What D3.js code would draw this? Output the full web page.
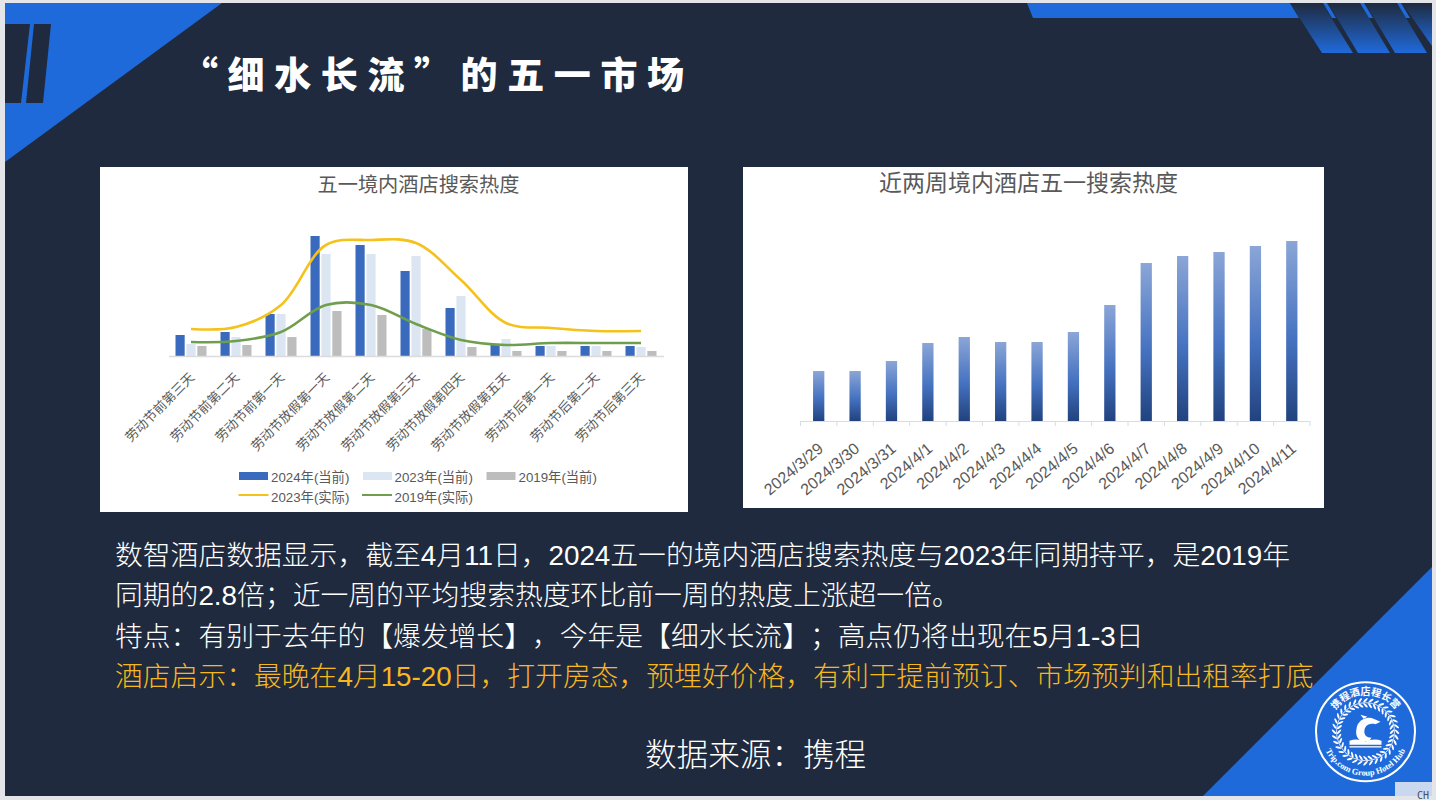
<!DOCTYPE html>
<html>
<head>
<meta charset="utf-8">
<script src="https://cdn.jsdelivr.net/npm/d3@7"></script>
<style>
  html, body { margin: 0; padding: 0; background: #e3e5e8; }
  svg { display: block; }
  text { font-family: "Liberation Sans", "Noto Sans CJK SC", sans-serif; text-spacing-trim: space-all; }
</style>
</head>
<body>
<div id="slide"></div>
<script>
// Left chart data (index)
const holidayDays = ["劳动节前第三天", "劳动节前第二天", "劳动节前第一天", "劳动节放假第一天", "劳动节放假第二天", "劳动节放假第三天", "劳动节放假第四天", "劳动节放假第五天", "劳动节后第一天", "劳动节后第二天", "劳动节后第三天"]
const current2024 = [21, 24, 42, 120, 111, 85, 48, 11, 10, 10, 10]
const current2023 = [12, 19, 42, 102, 102, 100, 60, 17, 10, 10, 9]
const current2019 = [10, 11, 19, 45, 41, 27, 9, 5, 5, 5, 5]
const actual2023 = [27, 29, 51, 111, 116, 113, 76, 33, 28, 25, 25]
const actual2019 = [14, 15, 24, 51, 51, 32, 16, 11, 13, 13, 13]

// Right chart data
const searchDates = ["2024/3/29", "2024/3/30", "2024/3/31", "2024/4/1", "2024/4/2", "2024/4/3", "2024/4/4", "2024/4/5", "2024/4/6", "2024/4/7", "2024/4/8", "2024/4/9", "2024/4/10", "2024/4/11"]
const searchHeat = [50, 50, 60, 78, 84, 79, 79, 89, 116, 158, 165, 169, 175, 180]

// Text on the slide
const slideTitle = "“细水长流”的五一市场"
const bodyLines = [
  "数智酒店数据显示，截至4月11日，2024五一的境内酒店搜索热度与2023年同期持平，是2019年",
  "同期的2.8倍；近一周的平均搜索热度环比前一周的热度上涨超一倍。",
  "特点：有别于去年的【爆发增长】，今年是【细水长流】；高点仍将出现在5月1-3日",
  "酒店启示：最晚在4月15-20日，打开房态，预埋好价格，有利于提前预订、市场预判和出租率打底"
]

const BLUE = "#1f6adb"
const DARK = "#1f2a3e"
const GREY_TEXT = "#595959"

const svg = d3.select("#slide").append("svg")
  .attr("width", 1436)
  .attr("height", 800)

const defs = svg.append("defs")

drawBackground()
drawLeftChart()
drawRightChart()
drawText()
drawLogo()

function polygon(points, fill) {
  return svg.append("polygon")
    .attr("points", points.map(p => p.join(",")).join(" "))
    .attr("fill", fill)
}

function drawBackground() {
  svg.append("rect")
    .attr("x", 5).attr("y", 3)
    .attr("width", 1427).attr("height", 793)
    .attr("fill", DARK)

  // top left corner
  polygon([[5, 3], [222, 3], [5, 162]], BLUE)
  polygon([[5, 24], [30, 24], [21, 103], [5, 103]], DARK)
  polygon([[34, 24], [51, 24], [43, 103], [26, 103]], DARK)

  // top right strip
  polygon([[1027, 3], [1290, 3], [1299, 18], [1033, 18]], BLUE)

  const fade = defs.append("linearGradient")
    .attr("id", "stripeFade")
    .attr("x1", 0).attr("y1", 0).attr("x2", 0).attr("y2", 1)
  fade.append("stop").attr("offset", "0%").attr("stop-color", DARK)
  fade.append("stop").attr("offset", "100%").attr("stop-color", BLUE)

  polygon([[1290, 3], [1322, 3], [1353, 53], [1322, 53]], "url(#stripeFade)")
  polygon([[1328, 3], [1360, 3], [1390, 53], [1358, 53]], "url(#stripeFade)")
  polygon([[1365, 3], [1397, 3], [1427, 53], [1395, 53]], "url(#stripeFade)")
  polygon([[1402, 3], [1432, 3], [1432, 46]], "url(#stripeFade)")

  // blue ticks in the gaps between stripes
  polygon([[1323, 3], [1327, 3], [1336, 18], [1332, 18]], BLUE)
  polygon([[1360, 3], [1364, 3], [1373, 18], [1369, 18]], BLUE)
  polygon([[1397, 3], [1401, 3], [1410, 18], [1406, 18]], BLUE)

  // bottom right corner
  polygon([[1432, 567], [1432, 796], [1203, 796]], BLUE)

  // leftover toolbar scrap in the corner
  svg.append("rect")
    .attr("x", 1395).attr("y", 782)
    .attr("width", 37).attr("height", 14)
    .attr("fill", "#c9d8ee")
  svg.append("text")
    .attr("x", 1417).attr("y", 799)
    .attr("font-size", 10)
    .style("font-family", "DejaVu Sans Mono")
    .attr("fill", "#44505f")
    .text("CH")
}

function drawLeftChart() {
  svg.append("rect")
    .attr("x", 100).attr("y", 167)
    .attr("width", 588).attr("height", 345)
    .attr("fill", "#fff")

  svg.append("text")
    .attr("x", 418.5).attr("y", 192)
    .attr("text-anchor", "middle")
    .attr("font-size", 20.2)
    .attr("fill", GREY_TEXT)
    .text("五一境内酒店搜索热度")

  const x = d3.scaleBand().domain(holidayDays).range([168.5, 663.5])
  const y = d3.scaleLinear().domain([0, 120]).range([356, 236])

  const barSeries = [
    { name: "2024年(当前)", values: current2024, color: "#3a6abd" },
    { name: "2023年(当前)", values: current2023, color: "#dce5f2" },
    { name: "2019年(当前)", values: current2019, color: "#bdbdbd" }
  ]
  const lineSeries = [
    { name: "2023年(实际)", values: actual2023, color: "#f5c21b" },
    { name: "2019年(实际)", values: actual2019, color: "#6f9e4c" }
  ]

  const inner = d3.scaleBand()
    .domain(barSeries.map(d => d.name))
    .range([7, 38])
    .paddingInner(0.16)

  barSeries.forEach(s => {
    svg.append("g").selectAll("rect")
      .data(s.values)
      .enter()
      .append("rect")
      .attr("x", (d, i) => x(holidayDays[i]) + inner(s.name))
      .attr("y", d => y(d))
      .attr("width", inner.bandwidth())
      .attr("height", d => y(0) - y(d))
      .attr("fill", s.color)
  })

  const line = d3.line()
    .x((d, i) => x(holidayDays[i]) + x.bandwidth() / 2)
    .y(d => y(d))
    .curve(d3.curveCatmullRom.alpha(0.5))

  lineSeries.forEach(s => {
    svg.append("path")
      .attr("d", line(s.values))
      .attr("fill", "none")
      .attr("stroke", s.color)
      .attr("stroke-width", 2.6)
  })

  const axis = svg.append("g")
    .attr("transform", `translate(0,${y(0)})`)
    .call(d3.axisBottom(x).tickSize(0))
  axis.select(".domain").attr("stroke", "#dcdcdc").attr("stroke-width", 1.5)
  axis.selectAll("text")
    .attr("font-size", 13)
    .style("font-family", "Noto Sans CJK SC")
    .attr("fill", GREY_TEXT)
    .attr("text-anchor", "end")
    .attr("x", 0).attr("y", 0).attr("dy", "0.35em")
    .attr("transform", "translate(1,19) rotate(-45)")

  // legend
  const legendBars = [[239, 271], [363, 394.5], [486.5, 518.5]]
  barSeries.forEach((s, i) => {
    svg.append("rect")
      .attr("x", legendBars[i][0]).attr("y", 472)
      .attr("width", 29).attr("height", 8)
      .attr("fill", s.color)
    svg.append("text")
      .attr("x", legendBars[i][1]).attr("y", 481.5)
      .attr("font-size", 13.3)
      .attr("fill", GREY_TEXT)
      .text(s.name)
  })
  const legendLines = [[238.5, 271], [362, 394.5]]
  lineSeries.forEach((s, i) => {
    svg.append("line")
      .attr("x1", legendLines[i][0]).attr("x2", legendLines[i][0] + 30)
      .attr("y1", 495).attr("y2", 495)
      .attr("stroke", s.color)
      .attr("stroke-width", 2)
    svg.append("text")
      .attr("x", legendLines[i][1]).attr("y", 502)
      .attr("font-size", 13.3)
      .attr("fill", GREY_TEXT)
      .text(s.name)
  })
}

function drawRightChart() {
  svg.append("rect")
    .attr("x", 743).attr("y", 167)
    .attr("width", 581).attr("height", 341)
    .attr("fill", "#fff")

  svg.append("text")
    .attr("x", 1028.5).attr("y", 191)
    .attr("text-anchor", "middle")
    .attr("font-size", 23)
    .attr("fill", GREY_TEXT)
    .text("近两周境内酒店五一搜索热度")

  const x = d3.scaleBand().domain(searchDates).range([800.5, 1310]).paddingInner(0.69).paddingOuter(0.345)
  const y = d3.scaleLinear().domain([0, 180]).range([421, 241])

  const barFill = defs.append("linearGradient")
    .attr("id", "heatBar")
    .attr("x1", 0).attr("y1", 0).attr("x2", 0).attr("y2", 1)
  barFill.append("stop").attr("offset", "0%").attr("stop-color", "#8ba6d7")
  barFill.append("stop").attr("offset", "55%").attr("stop-color", "#4572c0")
  barFill.append("stop").attr("offset", "100%").attr("stop-color", "#21427e")

  svg.append("g").selectAll("rect")
    .data(searchHeat)
    .enter()
    .append("rect")
    .attr("x", (d, i) => x(searchDates[i]))
    .attr("y", d => y(d))
    .attr("width", x.bandwidth())
    .attr("height", d => y(0) - y(d))
    .attr("fill", "url(#heatBar)")

  const axis = svg.append("g")
    .attr("transform", `translate(0,${y(0)})`)
    .call(d3.axisBottom(x).tickSize(0))
  axis.select(".domain").attr("stroke", "#d6dce8").attr("stroke-width", 1.2)
  axis.selectAll("text")
    .attr("font-size", 16)
    .attr("fill", GREY_TEXT)
    .attr("text-anchor", "end")
    .attr("x", 0).attr("y", 0).attr("dy", "0.35em")
    .attr("transform", "translate(2,25) rotate(-40)")

  // ticks sit between the bars, on the band edges
  axis.selectAll(".edge")
    .data(searchDates.concat("end"))
    .enter()
    .append("line")
    .attr("class", "edge")
    .attr("x1", (d, i) => x.range()[0] + i * x.step())
    .attr("x2", (d, i) => x.range()[0] + i * x.step())
    .attr("y1", 0).attr("y2", 5)
    .attr("stroke", "#d6dce8")
}

function drawText() {
  svg.append("text")
    .attr("x", 181).attr("y", 89)
    .attr("font-size", 37)
    .attr("font-weight", 900)
    .style("font-family", "Noto Sans CJK SC")
    .attr("letter-spacing", 9.6)
    .attr("fill", "#fff")
    .text(slideTitle)

  const lineY = d3.scalePoint().domain(bodyLines).range([565, 686])
  svg.append("g").selectAll("text")
    .data(bodyLines)
    .enter()
    .append("text")
    .attr("x", 115)
    .attr("y", d => lineY(d))
    .attr("font-size", 27.8)
    .attr("font-weight", 300)
    .attr("fill", (d, i) => i === 3 ? "#f7b81e" : "#fff")
    .text(d => d)

  svg.append("text")
    .attr("x", 645).attr("y", 766)
    .attr("font-size", 31.6)
    .attr("font-weight", 300)
    .attr("fill", "#fff")
    .text("数据来源：携程")
}

function drawLogo() {
  const g = svg.append("g").attr("transform", "translate(1365.5,731.7)")

  g.append("circle").attr("r", 49.5).attr("fill", "none").attr("stroke", "#fff").attr("stroke-width", 2)

  defs.append("path").attr("id", "logoTop").attr("d", "M-37,0 A37,37 0 0 1 37,0")
  defs.append("path").attr("id", "logoBottom").attr("d", "M-44,0 A44,44 0 0 0 44,0")

  g.append("text")
    .attr("font-size", 10)
    .attr("font-weight", 700)
    .style("font-family", "Noto Sans CJK SC")
    .attr("fill", "#fff")
    .attr("text-anchor", "middle")
    .append("textPath")
    .attr("href", "#logoTop")
    .attr("startOffset", "50%")
    .text("携程酒店程长营")

  g.append("text")
    .attr("font-size", 8.5)
    .attr("font-weight", 700)
    .style("font-family", "Liberation Serif")
    .attr("fill", "#fff")
    .attr("text-anchor", "middle")
    .append("textPath")
    .attr("href", "#logoBottom")
    .attr("startOffset", "50%")
    .text("Trip.com Group Hotel Hub")

  // wreath leaves, two rows around a thin stem
  g.append("circle").attr("r", 29).attr("fill", "none").attr("stroke", "#fff").attr("stroke-width", 0.8)
  d3.range(0, 360, 10).forEach(a => {
    [[31.5, 45], [26.5, -45]].forEach(([r, tilt]) => {
      g.append("ellipse")
        .attr("rx", 3).attr("ry", 1)
        .attr("fill", "#fff")
        .attr("transform", `rotate(${a}) translate(${r},0) rotate(${tilt})`)
    })
  })

  // dolphin
  g.append("path")
    .attr("d", "M-9,-3 C-8,-12 2,-16 8,-13 L15,-10 L10,-7.5 C5,-9 0,-7 -1,-2 C-2,3 1,6 6,6 C4,10 -1,11 -5,9 C-9,6 -10,2 -9,-3 Z")
    .attr("fill", "#fff")
  g.append("path")
    .attr("d", "M-2,-13 L-5,-17 L2,-15 Z")
    .attr("fill", "#fff")

  // open book
  g.append("path")
    .attr("d", "M-16,9 C-10,7 -4,8 0,10 C4,8 10,7 16,9 L16,13 L-16,13 Z")
    .attr("fill", "#fff")
  g.append("rect")
    .attr("x", -16).attr("y", 14.5)
    .attr("width", 32).attr("height", 1.3)
    .attr("fill", "#fff")
}
</script>
</body>
</html>
